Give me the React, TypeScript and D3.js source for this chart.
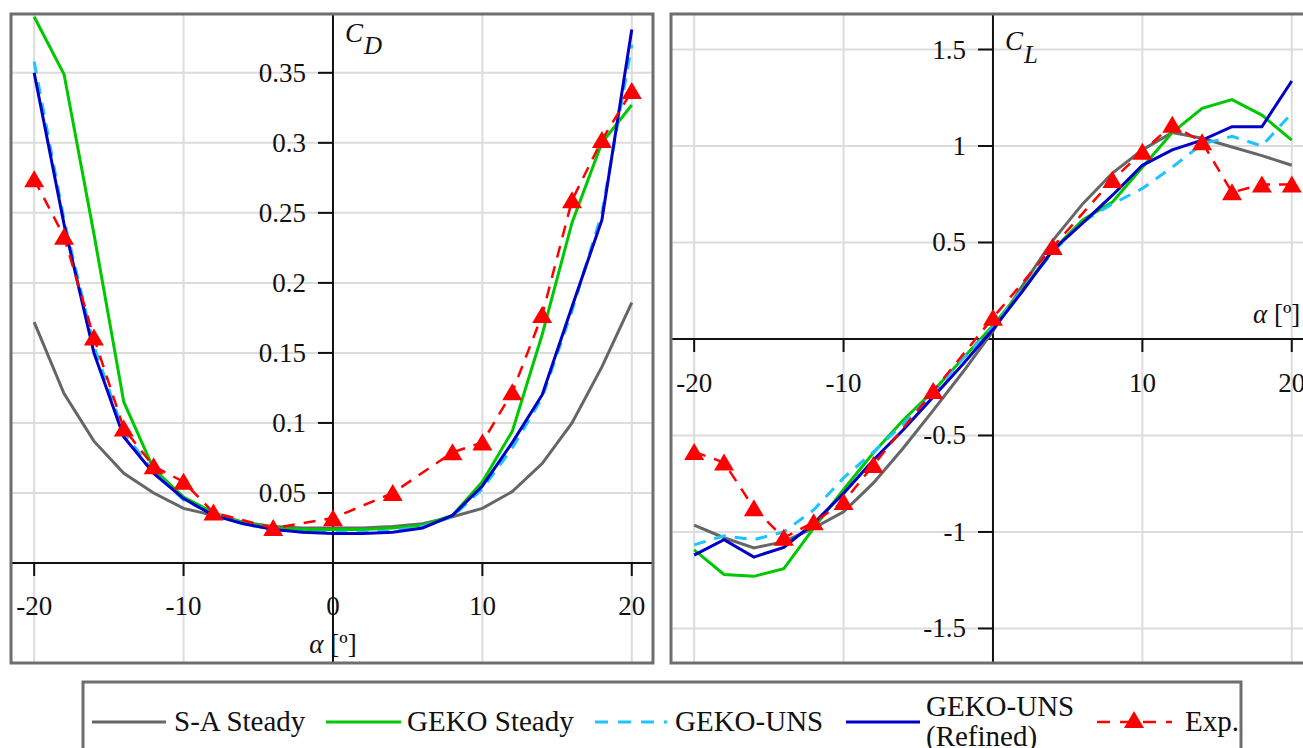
import React from "react";
import * as d3 from "d3";

// ---------- data ----------
const alpha = [-20, -18, -16, -14, -12, -10, -8, -6, -4, -2, 0, 2, 4, 6, 8, 10, 12, 14, 16, 18, 20];
const alphaExp = [-20, -18, -16, -14, -12, -10, -8, -4, 0, 4, 8, 10, 12, 14, 16, 18, 20];

const cdSA = [0.172, 0.121, 0.087, 0.064, 0.050, 0.039, 0.034, 0.029, 0.026, 0.025, 0.025, 0.025, 0.026, 0.028, 0.033, 0.039, 0.051, 0.071, 0.100, 0.140, 0.186];
const cdGEKO = [0.390, 0.349, 0.235, 0.115, 0.067, 0.047, 0.036, 0.029, 0.025, 0.024, 0.024, 0.024, 0.025, 0.027, 0.034, 0.058, 0.094, 0.163, 0.243, 0.300, 0.327];
const cdUNS = [0.358, 0.245, 0.155, 0.093, 0.065, 0.045, 0.035, 0.028, 0.024, 0.022, 0.022, 0.022, 0.023, 0.026, 0.033, 0.053, 0.082, 0.118, 0.180, 0.250, 0.370];
const cdRef = [0.350, 0.242, 0.150, 0.090, 0.064, 0.046, 0.034, 0.028, 0.024, 0.022, 0.021, 0.021, 0.022, 0.025, 0.034, 0.055, 0.086, 0.120, 0.183, 0.245, 0.381];
const cdExp = [0.274, 0.233, 0.161, 0.096, 0.069, 0.058, 0.036, 0.025, 0.032, 0.050, 0.079, 0.086, 0.122, 0.177, 0.259, 0.302, 0.337];

const clSA = [-0.964, -1.03, -1.083, -1.05, -0.98, -0.896, -0.746, -0.565, -0.37, -0.17, 0.04, 0.28, 0.51, 0.70, 0.86, 0.98, 1.07, 1.04, 0.995, 0.95, 0.90];
const clGEKO = [-1.093, -1.22, -1.23, -1.19, -0.98, -0.78, -0.59, -0.42, -0.27, -0.10, 0.07, 0.26, 0.46, 0.617, 0.71, 0.89, 1.07, 1.195, 1.24, 1.16, 1.03];
const clUNS = [-1.067, -1.02, -1.04, -1.0, -0.886, -0.72, -0.585, -0.44, -0.28, -0.10, 0.06, 0.26, 0.45, 0.607, 0.70, 0.78, 0.89, 1.01, 1.05, 1.0, 1.17];
const clRef = [-1.12, -1.04, -1.13, -1.08, -0.955, -0.80, -0.627, -0.47, -0.30, -0.13, 0.05, 0.25, 0.46, 0.60, 0.745, 0.90, 0.98, 1.03, 1.10, 1.10, 1.337];
const clExp = [-0.585, -0.64, -0.877, -1.03, -0.95, -0.845, -0.653, -0.27, 0.11, 0.477, 0.824, 0.97, 1.11, 1.02, 0.76, 0.80, 0.80];

const xTicks = [-20, -10, 0, 10, 20];
const cdTicks = [0.05, 0.1, 0.15, 0.2, 0.25, 0.3, 0.35];
const cdTickLabels = ["0.05", "0.1", "0.15", "0.2", "0.25", "0.3", "0.35"];
const clTicks = [-1.5, -1, -0.5, 0.5, 1, 1.5];
const clTickLabels = ["-1.5", "-1", "-0.5", "0.5", "1", "1.5"];

const seriesNames = ["S-A Steady", "GEKO Steady", "GEKO-UNS", "GEKO-UNS", "Exp."];

// ---------- style ----------
const FONT = "Liberation Serif";
const C_SA = "#666666";
const C_GEKO = "#00c800";
const C_UNS = "#1ec3ff";
const C_REF = "#0000c8";
const C_EXP = "#ff0000";
const GRID = "#dcdcdc";
const FRAME = "#6e6e6e";

const tri = (cx: number, cy: number) =>
  `M${cx},${cy - 9}L${cx + 10},${cy + 8}L${cx - 10},${cy + 8}Z`;

type PanelProps = {
  x0: number; x1: number; y0: number; y1: number;
  yDomain: [number, number];
  yTicks: number[]; yLabels: string[];
  xLabelTicks: number[];
  sa: number[]; geko: number[]; uns: number[]; ref: number[]; exp: number[];
  clipId: string;
  xLabelBaselineOffset: number;
};

function Panel(p: PanelProps) {
  const x = d3.scaleLinear().domain([-21.55, 21.42]).range([p.x0, p.x1]);
  const y = d3.scaleLinear().domain(p.yDomain).range([p.y1, p.y0]);
  const ax = x(0);
  const ay = y(0);
  const line = d3.line<number>().x((_, i) => x(alpha[i])).y((d) => y(d));
  const lineExp = d3.line<number>().x((_, i) => x(alphaExp[i])).y((d) => y(d));
  return (
    <g>
      <defs>
        <clipPath id={p.clipId}>
          <rect x={p.x0} y={p.y0} width={p.x1 - p.x0} height={p.y1 - p.y0} />
        </clipPath>
      </defs>
      {[-20, -10, 10, 20].map((t) => (
        <line key={"gx" + t} x1={x(t)} x2={x(t)} y1={p.y0} y2={p.y1} stroke={GRID} strokeWidth={2} />
      ))}
      {p.yTicks.map((t) => (
        <line key={"gy" + t} x1={p.x0} x2={p.x1} y1={y(t)} y2={y(t)} stroke={GRID} strokeWidth={2} />
      ))}
      <line x1={p.x0} x2={p.x1} y1={ay} y2={ay} stroke="#111" strokeWidth={2} />
      <line x1={ax} x2={ax} y1={p.y0} y2={p.y1} stroke="#111" strokeWidth={2} />
      {xTicks.map((t) => (
        <line key={"tx" + t} x1={x(t)} x2={x(t)} y1={ay} y2={ay + 13} stroke="#111" strokeWidth={2} />
      ))}
      {p.yTicks.map((t) => (
        <line key={"ty" + t} x1={ax - 15} x2={ax} y1={y(t)} y2={y(t)} stroke="#111" strokeWidth={2} />
      ))}
      {p.xLabelTicks.map((t) => (
        <text key={"lx" + t} x={x(t)} y={ay + p.xLabelBaselineOffset} textAnchor="middle" fontSize={27} fontFamily={FONT} fill="#111">
          {String(t)}
        </text>
      ))}
      {p.yTicks.map((t, i) => (
        <text key={"ly" + t} x={ax - 27} y={y(t) + 9} textAnchor="end" fontSize={27} fontFamily={FONT} fill="#111">
          {p.yLabels[i]}
        </text>
      ))}
      <g clipPath={`url(#${p.clipId})`}>
        <path d={line(p.sa) || ""} fill="none" stroke={C_SA} strokeWidth={3} />
        <path d={line(p.geko) || ""} fill="none" stroke={C_GEKO} strokeWidth={3} />
        <path d={line(p.uns) || ""} fill="none" stroke={C_UNS} strokeWidth={3} strokeDasharray="12,9" />
        <path d={line(p.ref) || ""} fill="none" stroke={C_REF} strokeWidth={3} />
        <path d={lineExp(p.exp) || ""} fill="none" stroke={C_EXP} strokeWidth={2.5} strokeDasharray="12,9" />
        {p.exp.map((v, i) => (
          <path key={"m" + i} d={tri(x(alphaExp[i]), y(v))} fill={C_EXP} />
        ))}
      </g>
      <rect x={p.x0} y={p.y0} width={p.x1 - p.x0} height={p.y1 - p.y0} fill="none" stroke={FRAME} strokeWidth={3} />
    </g>
  );
}

export default function App() {
  const legY = 722;
  return (
    <svg width={1303} height={748} style={{ position: "absolute", left: 0, top: 0, background: "#fff" }}>
      <rect x={0} y={0} width={1303} height={748} fill="#fff" />
      <Panel
        x0={11} x1={653} y0={14} y1={663}
        yDomain={[-0.0714, 0.392]}
        yTicks={cdTicks} yLabels={cdTickLabels}
        xLabelTicks={[-20, -10, 0, 10, 20]}
        sa={cdSA} geko={cdGEKO} uns={cdUNS} ref={cdRef} exp={cdExp}
        clipId="clipL"
        xLabelBaselineOffset={52}
      />
      <Panel
        x0={671} x1={1313} y0={14} y1={663}
        yDomain={[-1.679, 1.684]}
        yTicks={clTicks} yLabels={clTickLabels}
        xLabelTicks={[-20, -10, 10, 20]}
        sa={clSA} geko={clGEKO} uns={clUNS} ref={clRef} exp={clExp}
        clipId="clipR"
        xLabelBaselineOffset={53}
      />
      <text x={345} y={42} fontSize={27} fontFamily={FONT} fontStyle="italic" fill="#111">
        C<tspan fontSize={25} dx={1} dy={12}>D</tspan>
      </text>
      <text x={333} y={653} textAnchor="middle" fontSize={27} fontFamily={FONT} fill="#111">
        <tspan fontStyle="italic">α</tspan> [º]
      </text>
      <text x={1005} y={50} fontSize={27} fontFamily={FONT} fontStyle="italic" fill="#111">
        C<tspan fontSize={25} dx={1} dy={13}>L</tspan>
      </text>
      <text x={1253} y={323} fontSize={27} fontFamily={FONT} fill="#111">
        <tspan fontStyle="italic">α</tspan> [º]
      </text>

      <rect x={83} y={682} width={1158} height={80} fill="#fff" stroke={FRAME} strokeWidth={3} />
      <line x1={92} x2={166} y1={legY} y2={legY} stroke={C_SA} strokeWidth={3} />
      <text x={174} y={731} fontSize={29} fontFamily={FONT} fill="#111">{seriesNames[0]}</text>
      <line x1={326} x2={401} y1={legY} y2={legY} stroke={C_GEKO} strokeWidth={3} />
      <text x={407} y={731} fontSize={29} fontFamily={FONT} fill="#111">{seriesNames[1]}</text>
      <line x1={595} x2={667} y1={legY} y2={legY} stroke={C_UNS} strokeWidth={3} strokeDasharray="13,10" />
      <text x={675} y={731} fontSize={29} fontFamily={FONT} fill="#111">{seriesNames[2]}</text>
      <line x1={846} x2={920} y1={legY} y2={legY} stroke={C_REF} strokeWidth={3} />
      <text x={926} y={716} fontSize={29} fontFamily={FONT} fill="#111">{seriesNames[3]}</text>
      <text x={926} y={746} fontSize={29} fontFamily={FONT} fill="#111">(Refined)</text>
      <line x1={1097} x2={1172} y1={legY} y2={legY} stroke={C_EXP} strokeWidth={2.5} strokeDasharray="13,10" />
      <path d={tri(1134, legY - 2)} fill={C_EXP} />
      <text x={1185} y={731} fontSize={29} fontFamily={FONT} fill="#111">{seriesNames[4]}</text>
    </svg>
  );
}
